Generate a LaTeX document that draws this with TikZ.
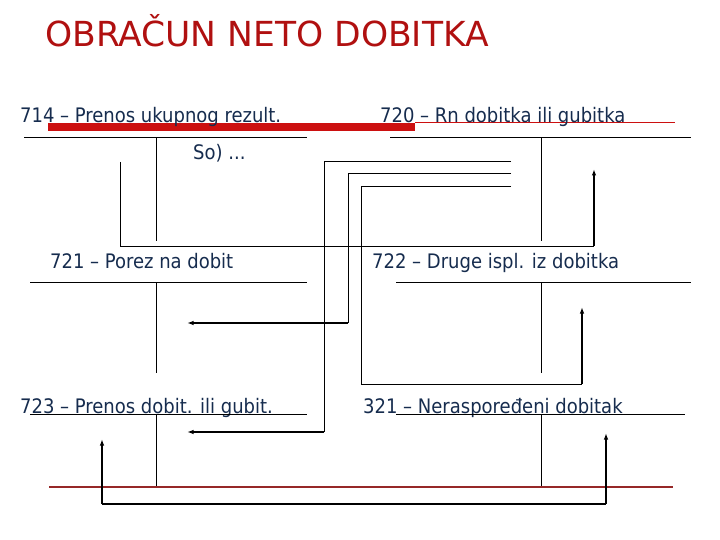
\documentclass[tikz,border=0pt]{standalone}
\usepackage{fontspec}
\setmainfont{DejaVu Sans Condensed}
\newfontfamily\naslovfont{DejaVu Sans}
\usetikzlibrary{arrows.meta}
\definecolor{naslov}{RGB}{176,16,16}
\definecolor{tekst}{RGB}{22,44,78}
\definecolor{crvena}{RGB}{204,16,16}
\definecolor{tamnocrvena}{RGB}{150,40,40}

\begin{document}
\begin{tikzpicture}[x=1pt,y=-1pt,
	konto/.style={line width=1pt},
	veza/.style={line width=1pt},
	strelica/.style={line width=1.8pt,-{Latex[length=6.5pt,width=4.5pt]}},
	naziv/.style={anchor=base west,inner sep=0pt,text=tekst,font=\fontsize{20}{20}\selectfont}]
	\useasboundingbox (0,0) rectangle (720,540);
	\node[anchor=base west,inner sep=0pt,text=naslov,font=\naslovfont\fontsize{34.5}{34.5}\selectfont] (naslov) at (45,47) {OBRAČUN NETO DOBITKA};
	% crvene linije
	\draw[crvena,line width=8pt] (48,127.5) -- (415,127.5);
	\draw[crvena,line width=1pt] (415,123) -- (675,123);
	\draw[tamnocrvena,line width=1.2pt] (49,487) -- (673,487);
	% nazivi konta
	\node[naziv] (k714) at (20,123) {714 – Prenos ukupnog rezult.};
	\node[naziv] (k720) at (380,123) {720 – Rn dobitka ili gubitka};
	\node[naziv] (so) at (193,160) {So) ...};
	\node[naziv] (k721) at (50,268) {721 – Porez na dobit};
	\node[naziv] (k722) at (372,268) {722 – Druge ispl. iz dobitka};
	\node[naziv] (k723) at (20,413) {723 – Prenos dobit. ili gubit.};
	\node[naziv] (k321) at (363,413) {321 – Neraspoređeni dobitak};
	% T konta
	\draw[konto] (24,138) -- (307,138) (156,138) -- (156,241);
	\draw[konto] (390,138) -- (691,138) (541,138) -- (541,241);
	\draw[konto] (30,282) -- (307,282) (156,282) -- (156,373);
	\draw[konto] (396,282) -- (691,282) (541,282) -- (541,373);
	\draw[konto] (30,414) -- (307,414) (156,414) -- (156,486);
	\draw[konto] (396,414) -- (685,414) (541,414) -- (541,486);
	% veze
	\coordinate (a1) at (120,162);
	\coordinate (a2) at (594,246);
	\coordinate (a3) at (594,169);
	\draw[veza] (a1) |- (a2);
	\draw[strelica] (a2) -- (a3);
	\coordinate (b1) at (511,162);
	\coordinate (b2) at (324,432);
	\coordinate (b3) at (187,432);
	\draw[veza] (b1) -| (b2);
	\draw[strelica] (b2) -- (b3);
	\coordinate (c1) at (511,174);
	\coordinate (c2) at (348,323);
	\coordinate (c3) at (187,323);
	\draw[veza] (c1) -| (c2);
	\draw[strelica] (c2) -- (c3);
	\coordinate (d1) at (511,187);
	\coordinate (d2) at (361,384);
	\coordinate (d3) at (582,384);
	\coordinate (d4) at (582,307);
	\draw[veza] (d1) -| (d2) -- (d3);
	\draw[strelica] (d3) -- (d4);
	\coordinate (e1) at (102,439);
	\coordinate (e2) at (102,504);
	\coordinate (e3) at (606,504);
	\coordinate (e4) at (606,433);
	\draw[strelica] (e2) -- (e1);
	\draw[veza,line width=1.4pt] (e2) -- (e3);
	\draw[strelica] (e3) -- (e4);
\end{tikzpicture}
\end{document}
